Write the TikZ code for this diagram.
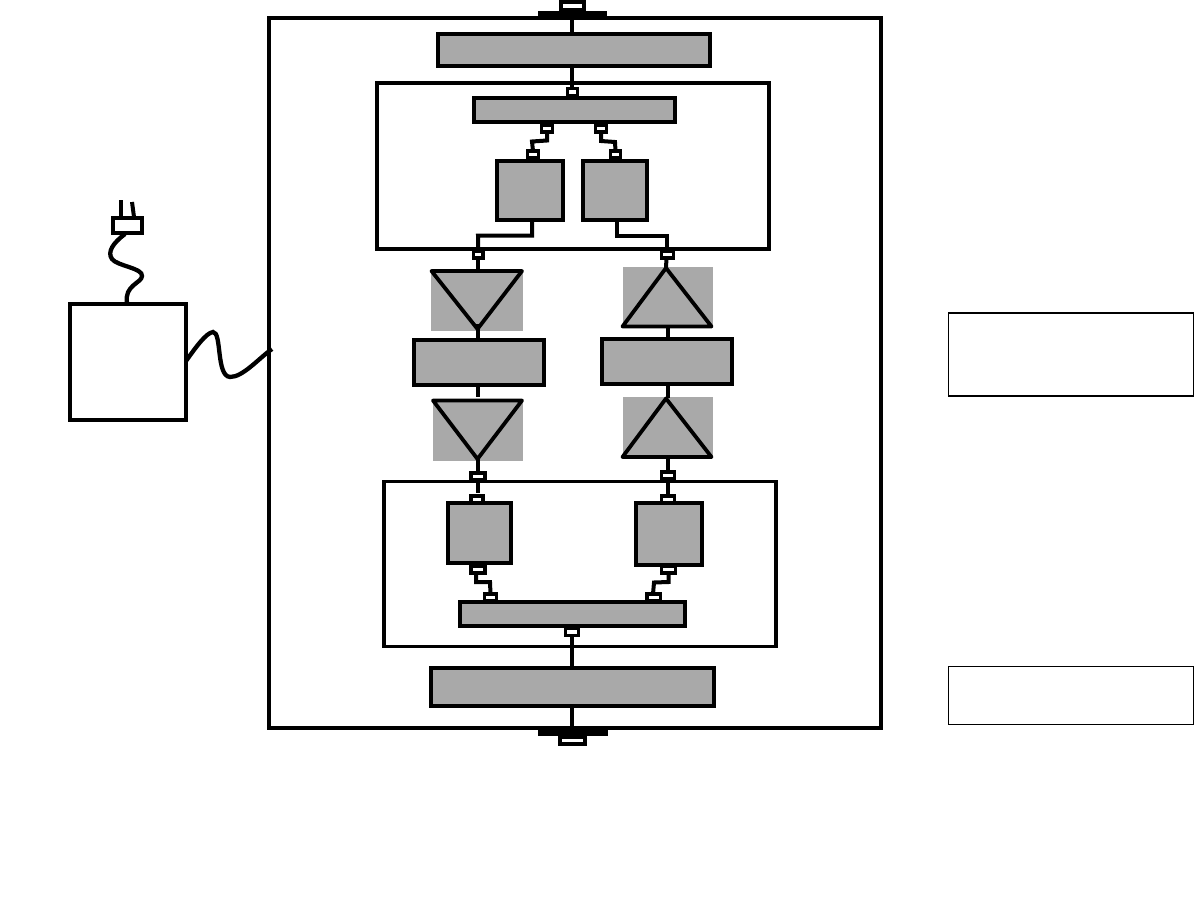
\documentclass[tikz,border=0pt]{standalone}
\definecolor{fillgray}{HTML}{A9A9A9}
\tikzset{
  base/.style={inner sep=0pt,outer sep=0pt,rectangle},
  frame/.style={base,draw=black,line width=3.8pt},
  block/.style={base,draw=black,fill=fillgray,line width=4pt},
  port/.style={base,draw=black,fill=white,line width=3.5pt},
  backing/.style={base,fill=fillgray},
  wire/.style={draw=black,line width=4pt},
  tri/.style={draw=black,line width=3.8pt,line join=round,line cap=round},
  legendA/.style={base,draw=black,line width=1.5pt},
  legendB/.style={base,draw=black,line width=1pt},
  solidbar/.style={base,fill=black}
}
\newcommand{\bx}[6]{\node[#2,minimum width={(#5-#3)*1pt},minimum height={(#6-#4)*1pt}] (#1) at ({(#3+#5)/2},{(#4+#6)/2}) {};}
\begin{document}
\begin{tikzpicture}[x=1pt,y=-1pt]
\useasboundingbox (0,0) rectangle (1194,905);
% frames
\bx{outer}{frame}{269}{18}{881}{728}
\bx{groupA}{frame}{377}{83}{769}{249}
\bx{groupB}{frame}{384}{481.5}{776}{646.5}
% grey backings of the triangles
\bx{bgLa}{backing}{431}{271}{523}{331}
\bx{bgRa}{backing}{623}{267}{713}{326}
\bx{bgLb}{backing}{433}{400}{523}{461}
\bx{bgRb}{backing}{623}{397}{713}{457}
% triangle corners
\coordinate (tLaA) at (431.5,271);\coordinate (tLaB) at (522,271);\coordinate (tLaC) at (477.5,329);
\coordinate (tLbA) at (433,400.5);\coordinate (tLbB) at (522,400.5);\coordinate (tLbC) at (477.5,459);
\coordinate (tRaA) at (666,268);\coordinate (tRaB) at (622.5,326.5);\coordinate (tRaC) at (711.5,326.5);
\coordinate (tRbA) at (666,398.5);\coordinate (tRbB) at (622.5,457);\coordinate (tRbC) at (711.5,457);
% blocks
\bx{barTop}{block}{438}{34}{710}{66}
\bx{barA}{block}{474}{98}{675}{122}
\bx{boxAl}{block}{497}{161}{563}{220}
\bx{boxAr}{block}{583}{161}{647}{220}
\bx{midL}{block}{414}{340}{543.5}{385}
\bx{midR}{block}{602}{339}{732}{384}
\bx{boxBl}{block}{448}{503}{511}{563}
\bx{boxBr}{block}{636}{503}{702}{565}
\bx{barB}{block}{460}{602}{685}{626}
\bx{barBot}{block}{431}{668}{714}{706}
% terminals
\bx{capTop}{solidbar}{538}{11}{607}{17}
\bx{capBot}{solidbar}{538}{728}{608}{736}
\bx{termTop}{port,line width=4pt}{560.5}{2}{584}{10}
\bx{termBot}{port,line width=4pt}{560}{737}{584.5}{744}
% ports
\bx{pA}{port}{567.5}{88.5}{577.5}{96}
\bx{pAl}{port}{541.5}{125}{552.5}{132}
\bx{pAr}{port}{595.5}{125}{606.5}{132}
\bx{pBl}{port}{527.5}{151}{538.5}{158}
\bx{pBr}{port}{610.5}{151}{620.5}{158}
\bx{pOl}{port}{473.5}{251}{483}{258}
\bx{pOr}{port}{661.5}{251}{673.5}{258}
\bx{pCl}{port}{471}{473}{485}{480}
\bx{pCr}{port}{661.5}{472}{674.5}{479}
\bx{pDl}{port}{471}{496}{483}{503}
\bx{pDr}{port}{661.5}{496}{674.5}{503}
\bx{pEl}{port}{471}{566}{485}{573}
\bx{pEr}{port}{661.5}{566}{675.5}{573}
\bx{pFl}{port}{484.5}{594}{496.5}{601}
\bx{pFr}{port}{647}{594}{660.5}{601}
\bx{pG}{port}{565.5}{628.5}{578.5}{635.5}
% connectors
\draw[wire] (termTop.south) -- (termTop.south |- barTop.north);
\draw[wire] (termTop.south |- barTop.south) -- (pA.north -| termTop.south);
\draw[wire] (pAl.south) -- ++(0,8.5) -- ++(-15,1) -- (pBl.north);
\draw[wire] (pAr.south) -- ++(0,9) -- ++(14,1) -- (pBr.north);
\draw[wire] (532,220) -- (532,235.5) -- (478,235.5) -- (pOl.north);
\draw[wire] (617,220) -- (617,235.5) -- (666.5,235.5) -- (666.5,251);
\draw[wire] (pOl.south) -- (pOl.south |- tLaA);
\draw[wire] (666.5,258) -- (tRaA);
\draw[wire] (478,324) -- (478,340);
\draw[wire] (668,326.5) -- (668,339);
\draw[wire] (478,383) -- (478,397);
\draw[wire] (668,384) -- (668,398);
\draw[wire] (478,459) -- (478,473);
\draw[wire] (668,457) -- (668,472);
\draw[wire] (478,480) -- (478,493);
\draw[wire] (668,479) -- (668,496);
\draw[wire] (476,573) -- (476,582) -- (490,582) -- (pFl.north);
\draw[wire] (pEr.south) -- (668.5,582) -- (654,582.5) -- (653,594);
\draw[wire] (572,635.5) -- (572,668);
\draw[wire] (572,706) -- (572,728);
% triangles
\draw[tri] (tLaA) -- (tLaB) -- (tLaC) -- cycle;
\draw[tri] (tLbA) -- (tLbB) -- (tLbC) -- cycle;
\draw[tri] (tRaA) -- (tRaB) -- (tRaC) -- cycle;
\draw[tri] (tRbA) -- (tRbB) -- (tRbC) -- cycle;
% supply and plug
\bx{supply}{base,draw=black,line width=4.3pt}{70}{304}{186}{420}
\bx{plug}{base,draw=black,line width=4.3pt}{113}{218}{142}{233}
\coordinate (prongA) at (121,200);
\coordinate (prongB) at (132,202);
\draw[wire] (prongA) -- (121,217);
\draw[wire] (prongB) -- (134,217);
\draw[wire,line width=4.3pt] (125,234) .. controls (113,243) and (107,252) .. (112,259)
  .. controls (117,266) and (143,268) .. (142,276)
  .. controls (142,283) and (124,285) .. (127,303);
\draw[wire,line width=4.3pt] (186,361) .. controls (196,347) and (206,333) .. (213,332)
  .. controls (222,332) and (216,376) .. (230,377)
  .. controls (243,377) and (258,359) .. (272,349);
% legend boxes
\bx{legA}{legendA}{948.5}{313}{1193.5}{396}
\bx{legB}{legendB}{948.5}{666.5}{1193.5}{724.5}
\end{tikzpicture}
\end{document}
